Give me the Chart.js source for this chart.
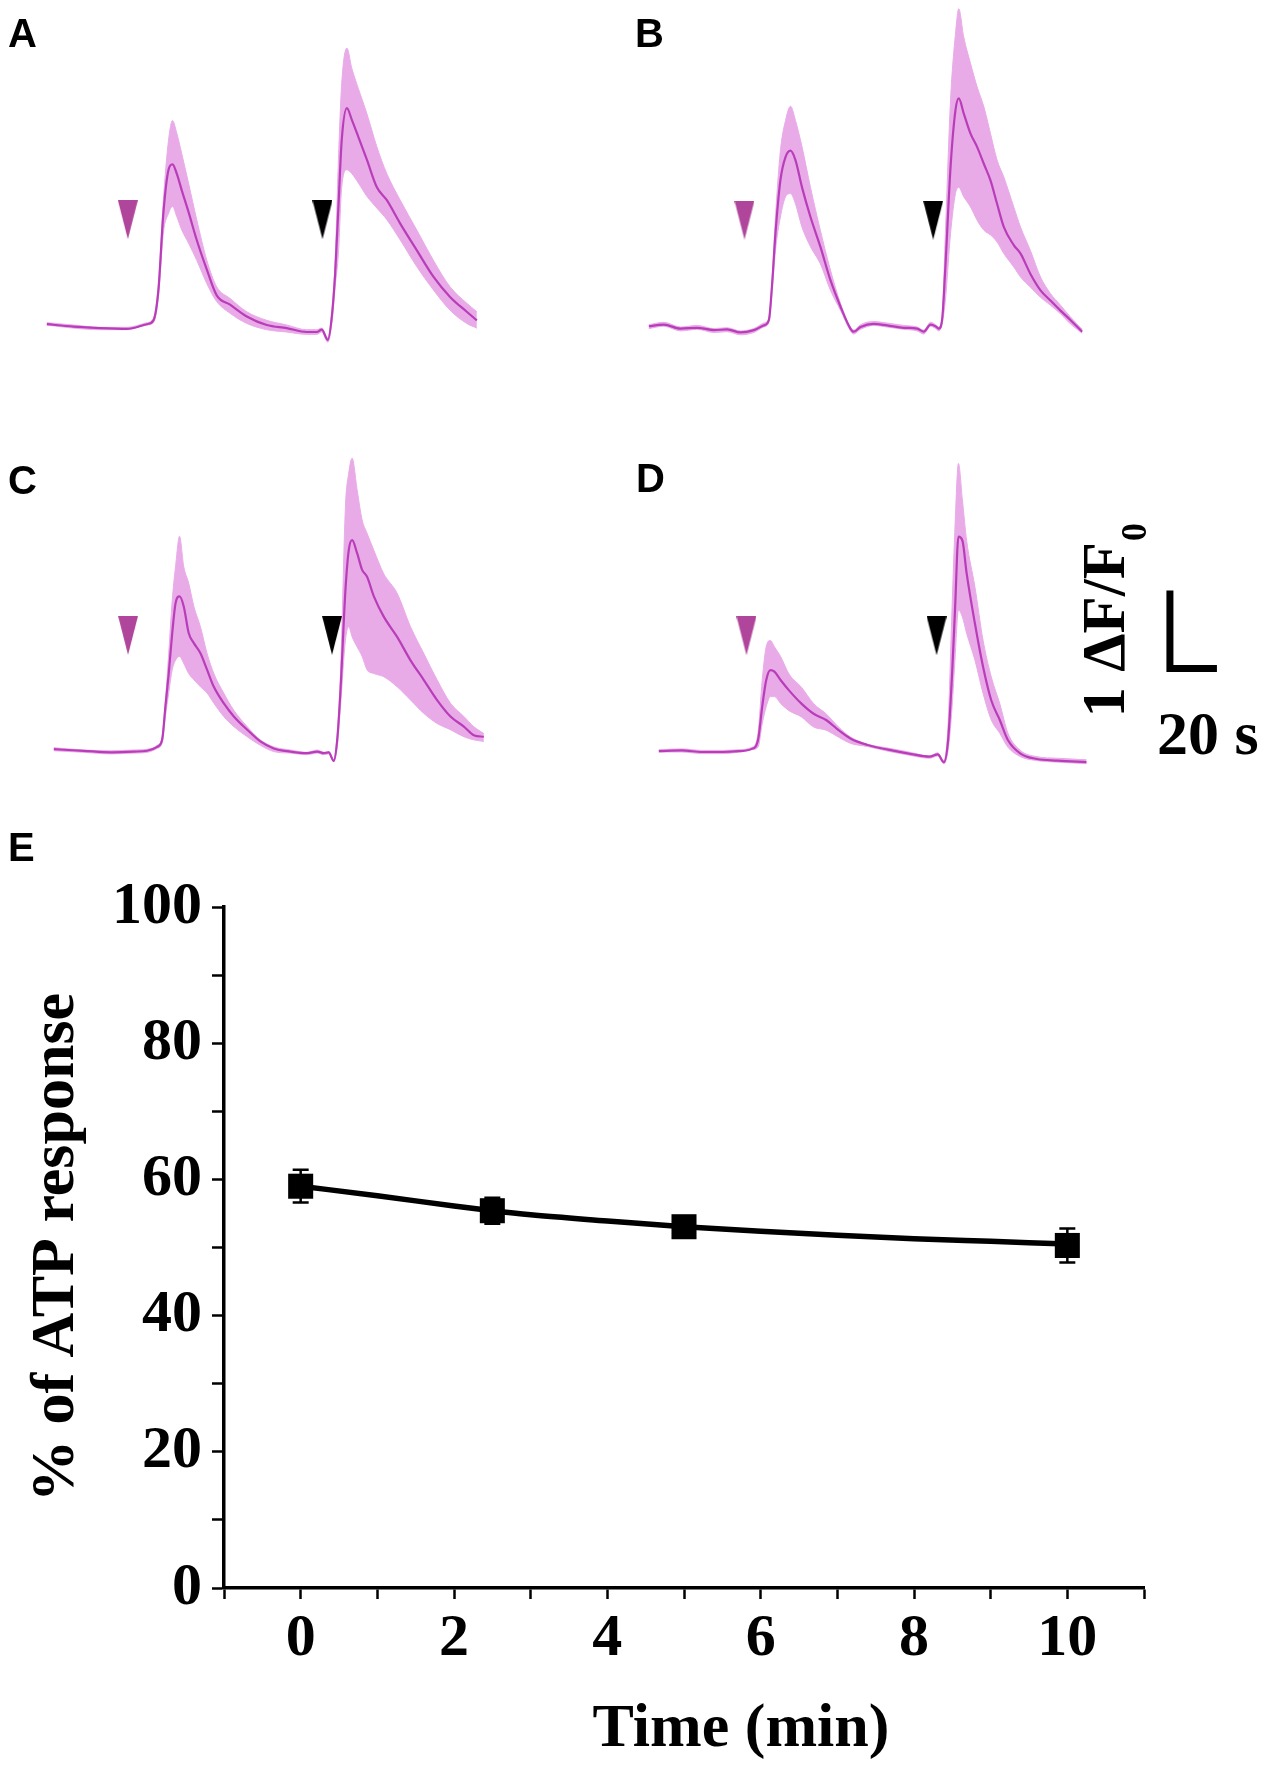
<!DOCTYPE html>
<html>
<head>
<meta charset="utf-8">
<script src="https://cdn.jsdelivr.net/npm/chart.js@4.4.1/dist/chart.umd.min.js"></script>
<style>
  body { margin: 0; background: #fff; }
  #fig { position: relative; width: 1267px; height: 1767px; overflow: hidden; background: #fff; }
  canvas { position: absolute; }
  .lbl { position: absolute; font: bold 40px "Liberation Sans", Arial, sans-serif; line-height: 1; color: #000; }
  .xtitle { position: absolute; font: bold 62px "Liberation Serif", "Times New Roman", serif; line-height: 1;
            color: #000; white-space: nowrap; transform: translateX(-50%); }
</style>
</head>
<body>
<div id="fig">
  <canvas id="cA" width="470" height="363" style="left:28px; top:1px"></canvas>
  <canvas id="cB" width="470" height="363" style="left:630px; top:3px"></canvas>
  <canvas id="cC" width="470" height="363" style="left:35px; top:426px"></canvas>
  <canvas id="cD" width="627" height="363" style="left:640px; top:428px"></canvas>
  <canvas id="cE" width="1267" height="907" style="left:0px; top:860px"></canvas>

  <div class="lbl" style="left:8px; top:13px">A</div>
  <div class="lbl" style="left:635px; top:13px">B</div>
  <div class="lbl" style="left:8px; top:460px">C</div>
  <div class="lbl" style="left:636px; top:458px">D</div>
  <div class="lbl" style="left:8px; top:827px">E</div>
  <div class="xtitle" style="left:741px; top:1694px">Time (min)</div>
</div>

<script>
// ---- calcium traces (time in s, values in ΔF/F0) ----
const tA = [0, 11.3, 22.7, 34.0, 42.6, 45.4, 47.5, 49.6, 51.8, 53.5, 55.3, 57.4, 60.3, 63.8, 68.1, 72.3, 78.0, 85.1, 93.6, 102.1,
            110.6, 114.9, 117.0, 119.6, 121.3, 122.7, 124.1, 125.5, 127.7, 129.8, 132.6, 136.2, 140.4, 144.7, 150.4, 157.4, 164.5, 171.6, 178.7, 183.0];
const meanA = [0.01, -0.02, -0.04, -0.05, 0.01, 0.06, 0.45, 1.43, 1.99, 2.06, 1.94, 1.73, 1.45, 1.09, 0.71, 0.38, 0.26, 0.11, 0.00, -0.04,
               -0.09, -0.09, -0.06, -0.19, 0.11, 0.66, 1.52, 2.37, 2.78, 2.63, 2.41, 2.12, 1.77, 1.60, 1.30, 0.96, 0.62, 0.36, 0.17, 0.06];
const upperA = [0.03, 0.00, -0.03, -0.03, 0.03, 0.09, 0.53, 1.60, 2.37, 2.62, 2.46, 2.20, 1.82, 1.35, 0.83, 0.49, 0.34, 0.17, 0.06, 0.00,
                -0.06, -0.06, -0.04, -0.17, 0.19, 0.83, 2.12, 3.10, 3.55, 3.29, 3.03, 2.71, 2.29, 1.94, 1.60, 1.22, 0.83, 0.49, 0.28, 0.17];
const lowerA = [0.00, -0.04, -0.06, -0.06, 0.00, 0.03, 0.36, 1.18, 1.43, 1.52, 1.39, 1.22, 1.05, 0.83, 0.53, 0.30, 0.15, 0.02, -0.06, -0.09,
                -0.12, -0.12, -0.09, -0.22, 0.02, 0.49, 0.92, 1.77, 1.99, 1.94, 1.82, 1.65, 1.50, 1.35, 1.09, 0.75, 0.45, 0.19, 0.02, -0.04];
const arrowsA = [34.5, 117.3];
const arrowLevelA = 1.35;

const tB = [0, 6.4, 13.5, 20.6, 27.7, 33.3, 39.0, 44.7, 48.9, 51.1, 52.5, 53.9, 56.0, 58.2, 60.3, 62.4, 65.2, 68.8, 73.0, 77.3,
            81.6, 85.8, 87.2, 90.1, 95.7, 101.4, 108.5, 114.2, 117.0, 119.9, 122.0, 123.4, 124.8, 126.2, 128.4, 130.5, 131.9, 134.0, 136.9, 139.7,
            142.6, 145.4, 148.2, 151.1, 155.3, 158.2, 162.4, 166.7, 170.9, 175.2, 179.4, 184.4];
const meanB = [0.01, 0.03, -0.02, -0.01, -0.04, -0.03, -0.07, -0.04, 0.02, 0.09, 0.56, 1.20, 1.88, 2.18, 2.26, 2.14, 1.79, 1.41, 1.03, 0.60,
               0.26, -0.02, -0.06, 0.00, 0.04, 0.02, -0.01, -0.02, -0.06, 0.03, 0.01, -0.02, 0.09, 0.77, 2.05, 2.78, 2.93, 2.74, 2.48, 2.31,
               2.09, 1.88, 1.58, 1.28, 1.05, 0.94, 0.68, 0.47, 0.34, 0.21, 0.09, -0.06];
const upperB = [0.03, 0.06, 0.00, 0.02, -0.02, -0.01, -0.05, -0.02, 0.05, 0.12, 0.64, 1.41, 2.26, 2.65, 2.83, 2.65, 2.31, 1.79, 1.24, 0.73,
                0.30, 0.00, -0.04, 0.03, 0.07, 0.05, 0.02, 0.00, -0.04, 0.06, 0.03, 0.00, 0.13, 1.20, 2.91, 3.76, 4.08, 3.72, 3.38, 3.08,
                2.82, 2.48, 2.14, 1.92, 1.54, 1.28, 0.98, 0.64, 0.43, 0.28, 0.13, -0.03];
const lowerB = [-0.02, 0.01, -0.05, -0.03, -0.07, -0.06, -0.10, -0.07, 0.00, 0.06, 0.47, 0.98, 1.41, 1.67, 1.71, 1.58, 1.28, 1.03, 0.81, 0.47,
                0.21, -0.05, -0.09, -0.03, 0.02, 0.00, -0.03, -0.05, -0.09, 0.01, -0.02, -0.05, 0.04, 0.34, 1.20, 1.71, 1.79, 1.67, 1.54, 1.37,
                1.24, 1.18, 1.09, 0.94, 0.77, 0.64, 0.51, 0.38, 0.28, 0.17, 0.04, -0.08];
const arrowsB = [40.7, 121.0];
const arrowLevelB = 1.37;

const tC = [0, 12.8, 24.1, 34.0, 39.7, 44.0, 46.1, 47.5, 48.9, 50.4, 51.8, 53.5, 55.3, 57.4, 59.6, 62.4, 65.2, 68.1, 72.3, 76.6,
            82.3, 87.9, 93.6, 100.7, 107.8, 112.1, 114.9, 117.0, 119.1, 120.6, 122.0, 124.1, 125.5, 126.95, 129.1, 131.2, 133.3, 136.2, 140.4, 146.1,
            151.8, 157.4, 163.1, 168.8, 174.5, 178.7, 183.0];
const meanC = [0.01, -0.01, -0.03, -0.02, -0.01, 0.04, 0.13, 0.56, 0.98, 1.50, 1.88, 1.97, 1.84, 1.50, 1.37, 1.24, 1.03, 0.81, 0.60, 0.43,
               0.26, 0.11, 0.02, -0.02, -0.04, -0.02, -0.04, -0.03, -0.14, 0.13, 0.77, 2.05, 2.56, 2.69, 2.52, 2.31, 2.22, 1.97, 1.71, 1.45,
               1.15, 0.90, 0.64, 0.43, 0.30, 0.19, 0.17];
const upperC = [0.03, 0.00, -0.01, 0.00, 0.01, 0.06, 0.17, 0.64, 1.24, 1.92, 2.35, 2.74, 2.35, 2.14, 1.84, 1.58, 1.24, 0.98, 0.73, 0.51,
                0.30, 0.13, 0.04, 0.00, -0.03, 0.00, -0.03, -0.02, -0.12, 0.21, 0.98, 3.12, 3.55, 3.74, 3.33, 2.95, 2.78, 2.56, 2.26, 2.01,
                1.58, 1.24, 0.90, 0.60, 0.43, 0.30, 0.21];
const lowerC = [-0.01, -0.03, -0.05, -0.04, -0.03, 0.02, 0.09, 0.43, 0.73, 1.03, 1.15, 1.20, 1.11, 0.98, 0.90, 0.81, 0.73, 0.60, 0.43, 0.30,
                0.17, 0.06, -0.02, -0.04, -0.06, -0.04, -0.06, -0.05, -0.15, 0.04, 0.56, 1.41, 1.58, 1.45, 1.32, 1.20, 1.03, 0.98, 0.94, 0.81,
                0.64, 0.47, 0.34, 0.26, 0.17, 0.13, 0.11];
const arrowsC = [31.6, 118.4];
const arrowLevelC = 1.47;

const tD = [0, 9.7, 18.5, 27.3, 34.3, 39.6, 42.2, 44.0, 45.7, 47.5, 49.2, 51.9, 55.4, 60.7, 65.9, 71.2, 76.5, 81.7, 88.8, 97.6,
            106.4, 115.2, 118.7, 121.3, 123.1, 124.8, 126.1, 127.5, 129.2, 131.0, 134.5, 138.0, 141.5, 145.1, 148.6, 153.9, 160.9, 169.7, 182.0];
const meanD = [0.01, 0.02, 0.00, 0.00, 0.01, 0.04, 0.15, 0.58, 0.92, 1.05, 1.03, 0.92, 0.79, 0.62, 0.49, 0.41, 0.28, 0.17, 0.09, 0.03,
               -0.02, -0.06, -0.03, -0.13, 0.15, 1.00, 1.86, 2.76, 2.71, 2.29, 1.65, 1.09, 0.66, 0.41, 0.15, -0.02, -0.09, -0.11, -0.13];
const upperD = [0.03, 0.04, 0.02, 0.02, 0.03, 0.06, 0.24, 0.92, 1.35, 1.43, 1.35, 1.22, 1.00, 0.83, 0.62, 0.49, 0.32, 0.19, 0.10, 0.05,
                0.00, -0.05, -0.01, -0.11, 0.36, 1.86, 2.93, 3.70, 3.23, 2.71, 2.12, 1.43, 0.96, 0.62, 0.24, 0.02, -0.06, -0.08, -0.10];
const lowerD = [0.00, 0.00, -0.02, -0.02, 0.00, 0.03, 0.06, 0.36, 0.58, 0.71, 0.71, 0.62, 0.53, 0.45, 0.32, 0.28, 0.19, 0.11, 0.07, 0.01,
                -0.04, -0.08, -0.05, -0.15, 0.02, 0.58, 1.22, 1.82, 1.73, 1.52, 1.18, 0.75, 0.41, 0.24, 0.06, -0.06, -0.11, -0.13, -0.15];
const arrowsD = [37.3, 118.2];
const arrowLevelD = 1.49;

// scale bar: 20 s by 1 ΔF/F0, corner given in panel D units
const barStart = [217.5, 1.07];
const barSize = [20, 1];

// ---- panel E ----
const timeMin = [0, 2.5, 5, 10];
const atpPct = [59.0, 55.4, 53.05, 50.3];
const atpErr = [2.4, 1.9, 1.5, 2.5];
const fitTime = [0, 1, 2, 2.5, 3, 4, 5, 6, 7, 8, 9, 10];
const fitPct = [59.0, 57.6, 56.1, 55.4, 54.8, 53.9, 53.05, 52.4, 51.8, 51.3, 50.9, 50.5];
const xLabelsE = [0, 2, 4, 6, 8, 10];
const yLabelsE = [0, 20, 40, 60, 80, 100];

const PX_PER_S = 2.35;
const PX_PER_UNIT = 78;
const LINE = '#b93db9';
const BAND = '#e8abe8';
const SERIF = "'Liberation Serif', 'Times New Roman', serif";

function arrowHead(color) {
    const c = document.createElement('canvas');
    c.width = 20;
    c.height = 39;
    const g = c.getContext('2d');
    g.fillStyle = color;
    g.beginPath();
    g.moveTo(0, 0);
    g.lineTo(20, 0);
    g.lineTo(10, 39);
    g.closePath();
    g.fill();
    return c;
}
const pinkHead = arrowHead('#b0469c');
const blackHead = arrowHead('#000');

const scaleBar = {
    id: 'scaleBar',
    afterDraw(chart) {
        const { ctx, scales: { x, y } } = chart;
        const x0 = x.getPixelForValue(barStart[0]);
        const x1 = x.getPixelForValue(barStart[0] + barSize[0]);
        const y0 = y.getPixelForValue(barStart[1]);
        const y1 = y.getPixelForValue(barStart[1] + barSize[1]);
        ctx.save();
        ctx.strokeStyle = '#000';
        ctx.lineWidth = 7;
        ctx.lineJoin = 'miter';
        ctx.beginPath();
        ctx.moveTo(x0, y1);
        ctx.lineTo(x0, y0);
        ctx.lineTo(x1, y0);
        ctx.stroke();

        ctx.fillStyle = '#000';
        ctx.font = 'bold 62px ' + SERIF;
        ctx.textAlign = 'center';
        ctx.textBaseline = 'alphabetic';
        ctx.fillText('20 s', x0 + 38, y0 + 85);

        ctx.translate(x0 - 46, y0 + 49);
        ctx.rotate(-Math.PI / 2);
        ctx.textAlign = 'left';
        ctx.font = 'bold 61px ' + SERIF;
        const main = '1 ΔF/F';
        ctx.fillText(main, 0, 0);
        const w = ctx.measureText(main).width;
        ctx.font = 'bold 36px ' + SERIF;
        ctx.fillText('0', w + 1, 22);
        ctx.restore();
    }
};

function traceChart(id, t, mean, upper, lower, arrows, arrowLevel, extra) {
    const cv = document.getElementById(id);
    const xy = (arr) => arr.map((v, i) => ({ x: t[i], y: v }));
    return new Chart(cv, {
        type: 'line',
        data: {
            datasets: [
                { data: [{ x: arrows[1], y: arrowLevel }], pointStyle: blackHead, showLine: false, pointRadius: 10 },
                { data: [{ x: arrows[0], y: arrowLevel }], pointStyle: pinkHead, showLine: false, pointRadius: 10 },
                { data: xy(mean), borderColor: LINE, borderWidth: 2.2, pointRadius: 0, fill: false, cubicInterpolationMode: 'monotone' },
                { data: xy(upper), borderColor: BAND, backgroundColor: BAND, borderWidth: 1, pointRadius: 0, fill: '+1', cubicInterpolationMode: 'monotone' },
                { data: xy(lower), borderColor: BAND, borderWidth: 1, pointRadius: 0, fill: false, cubicInterpolationMode: 'monotone' }
            ]
        },
        options: {
            responsive: false,
            animation: false,
            events: [],
            layout: { padding: 0, autoPadding: false },
            plugins: { legend: { display: false }, tooltip: { enabled: false } },
            scales: {
                x: { type: 'linear', display: false, min: -8, max: -8 + cv.width / PX_PER_S },
                y: { display: false, min: -0.5, max: -0.5 + cv.height / PX_PER_UNIT }
            }
        },
        plugins: extra || []
    });
}

traceChart('cA', tA, meanA, upperA, lowerA, arrowsA, arrowLevelA);
traceChart('cB', tB, meanB, upperB, lowerB, arrowsB, arrowLevelB);
traceChart('cC', tC, meanC, upperC, lowerC, arrowsC, arrowLevelC);
traceChart('cD', tD, meanD, upperD, lowerD, arrowsD, arrowLevelD, [scaleBar]);

const errorBars = {
    id: 'errorBars',
    beforeDatasetsDraw(chart) {
        const { ctx, scales: { x, y } } = chart;
        ctx.save();
        ctx.strokeStyle = '#000';
        ctx.lineWidth = 2.5;
        timeMin.forEach((t, i) => {
            const px = x.getPixelForValue(t);
            const top = y.getPixelForValue(atpPct[i] + atpErr[i]);
            const bot = y.getPixelForValue(atpPct[i] - atpErr[i]);
            ctx.beginPath();
            ctx.moveTo(px, top); ctx.lineTo(px, bot);
            ctx.moveTo(px - 8, top); ctx.lineTo(px + 8, top);
            ctx.moveTo(px - 8, bot); ctx.lineTo(px + 8, bot);
            ctx.stroke();
        });
        ctx.restore();
    }
};

const tickFont = { family: SERIF, weight: 'bold', size: 60 };
const axisGrid = (len) => ({ drawOnChartArea: false, drawTicks: true, tickLength: len, tickWidth: 2.5, tickColor: '#000' });

new Chart(document.getElementById('cE'), {
    type: 'line',
    data: {
        datasets: [
            {
                data: timeMin.map((t, i) => ({ x: t, y: atpPct[i] })),
                showLine: false, pointStyle: 'rect', pointRadius: 17.7,
                backgroundColor: '#000', borderColor: '#000', borderWidth: 0
            },
            {
                data: fitTime.map((t, i) => ({ x: t, y: fitPct[i] })),
                borderColor: '#000', borderWidth: 5.5, pointRadius: 0, fill: false,
                cubicInterpolationMode: 'monotone'
            }
        ]
    },
    options: {
        responsive: false,
        animation: false,
        events: [],
        layout: { padding: { top: 47, right: 123, left: 0, bottom: 0 }, autoPadding: false },
        plugins: { legend: { display: false }, tooltip: { enabled: false } },
        scales: {
            x: {
                type: 'linear', min: -1, max: 11,
                afterFit: (s) => { s.height = 179; },
                ticks: {
                    stepSize: 1, autoSkip: false, maxRotation: 0, padding: 4, color: '#000', font: tickFont,
                    callback: (v) => xLabelsE.includes(v) ? v : ''
                },
                grid: axisGrid(11),
                border: { color: '#000', width: 3.5 }
            },
            y: {
                min: 0, max: 100,
                afterFit: (s) => { s.width = 224; },
                ticks: {
                    stepSize: 10, autoSkip: false, padding: 10, color: '#000', font: tickFont,
                    callback: (v) => yLabelsE.includes(v) ? v : ''
                },
                grid: axisGrid(12),
                border: { color: '#000', width: 3.5 },
                title: {
                    display: true, text: '% of ATP response', color: '#000',
                    font: { family: SERIF, weight: 'bold', size: 62 },
                    padding: { top: 20, bottom: 0 }
                }
            }
        }
    },
    plugins: [errorBars]
});
</script>
</body>
</html>
